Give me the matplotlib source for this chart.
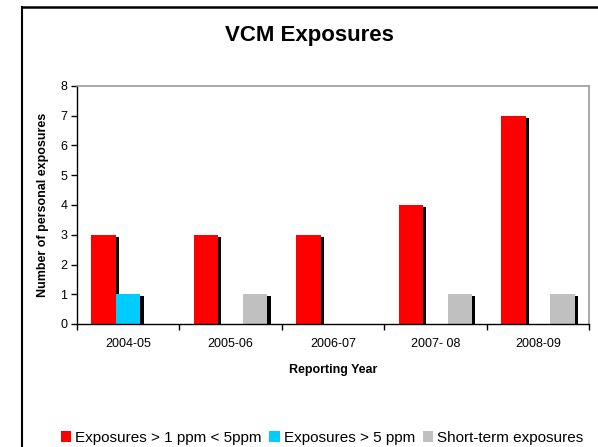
import matplotlib
matplotlib.use("Agg")
import matplotlib.pyplot as plt
import matplotlib.patheffects as pe
from matplotlib.lines import Line2D
from matplotlib.patches import Patch
import numpy as np

plt.rcParams['font.family'] = ['Liberation Sans', 'DejaVu Sans']

categories = ["2004-05", "2005-06", "2006-07", "2007- 08", "2008-09"]
series_names = ["Exposures > 1 ppm < 5ppm", "Exposures > 5 ppm", "Short-term exposures"]
low_exposures = [3, 3, 3, 4, 7]
high_exposures = [1, 0, 0, 0, 0]
short_term = [0, 1, 0, 1, 1]
colors = ["#FF0000", "#00CCFF", "#C0C0C0"]

W, H = 598, 447
fig = plt.figure(figsize=(W / 100, H / 100), dpi=100)
ax = fig.add_axes([77 / W, 1 - 324 / H, (589 - 77) / W, (324 - 86) / H])

x = np.arange(len(categories))
bw = 0.24
shadow = [pe.SimplePatchShadow(offset=(2.2, -1.5), shadow_rgbFace='black', alpha=1.0), pe.Normal()]
for i, (vals, col, name) in enumerate(zip([low_exposures, high_exposures, short_term], colors, series_names)):
    bars = ax.bar(x + (i - 1) * bw, vals, bw, color=col, linewidth=0, label=name, zorder=2)
    for b, v in zip(bars, vals):
        if v > 0:
            b.set_path_effects(shadow)

ax.set_xlim(-0.5, len(categories) - 0.5)
ax.set_ylim(0, 8)
ax.set_yticks(range(0, 9))
ax.set_xticks(np.arange(-0.5, len(categories), 1.0))
ax.set_xticklabels([])
ax.set_xticks(x, minor=True)
ax.set_xticklabels(categories, minor=True, fontsize=9)
ax.tick_params(axis='x', which='minor', length=0, pad=10)
ax.tick_params(axis='x', which='major', length=4, width=1, direction='out')
ax.tick_params(axis='y', length=4, width=1, direction='out', labelsize=9, pad=3)

for s in ['top', 'right']:
    ax.spines[s].set_color('#999999')
    ax.spines[s].set_linewidth(1.2)
for s in ['left', 'bottom']:
    ax.spines[s].set_color('black')
    ax.spines[s].set_linewidth(1.0)

ax.set_xlabel("Reporting Year", fontsize=9, fontweight='bold', labelpad=10)
ax.set_ylabel("Number of personal exposures", fontsize=9, fontweight='bold', labelpad=8)

fig.text(309 / W, 1 - 36 / H, "VCM Exposures", fontsize=16, fontweight='bold', ha='center', va='center')

handles = [Patch(facecolor=c, edgecolor='none') for c in colors]
leg = fig.legend(handles, series_names, loc='center', bbox_to_anchor=(322 / W, 1 - 438 / H), ncol=3,
                 frameon=False, fontsize=11, handlelength=0.7, handleheight=0.7,
                 handletextpad=0.25, columnspacing=0.5)

# outer chart frame (partially cut off)
fig.add_artist(Line2D([22 / W, 22 / W], [0, 1 - 7 / H], color='black', lw=1.5, transform=fig.transFigure))
fig.add_artist(Line2D([22 / W, 1], [1 - 7 / H, 1 - 7 / H], color='black', lw=1.8, transform=fig.transFigure))

fig.savefig("out.png", dpi=100)
